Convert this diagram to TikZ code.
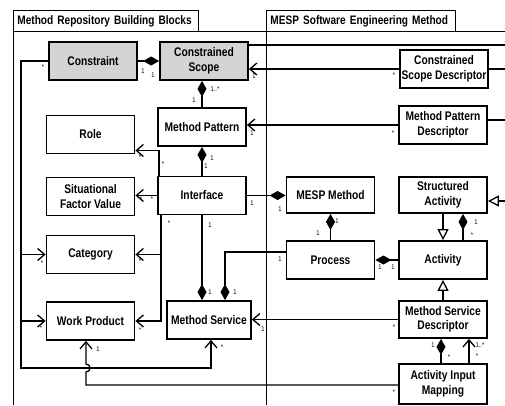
\documentclass[tikz,border=0pt]{standalone}
\usepackage{fontspec}
\setmainfont{Liberation Sans}[FakeStretch=0.82]
\usetikzlibrary{arrows.meta}

\begin{document}
\begin{tikzpicture}[x=1pt,y=-1pt,
    cls/.style={draw, line width=1.8pt, fill=white, minimum width=88pt, minimum height=38pt,
      inner sep=1pt, align=center, font=\fontsize{12.5}{14.5}\selectfont\bfseries},
    shaded/.style={cls, fill=black!17},
    assoc/.style={line width=1.3pt},
    comp/.style={assoc, -{Diamond[length=16pt,width=9pt]}},
    nav/.style={assoc, -{Straight Barb[length=7pt,width=12pt]}},
    gen/.style={assoc, -{Triangle[open,length=11pt,width=11pt]}},
    mult/.style={font=\fontsize{7}{8}\selectfont, inner sep=0pt},
    frame/.style={line width=0.9pt},
    tab/.style={draw, frame, anchor=north west, minimum height=21pt, inner sep=4pt,
      align=left, font=\fontsize{12.3}{14}\selectfont\bfseries}]
    \useasboundingbox (0,0) rectangle (505,405);

    % packages
    \node[tab, text width=177pt] (tabL) at (13,10) {Method Repository Building Blocks};
    \node[tab, text width=181pt] (tabR) at (266,10) {MESP Software Engineering Method};
    \draw[frame] (13,405) |- (505,31);
    \draw[frame] (tabR.north west) -- (266,405);

    % method repository
    \node[shaded] (cons) at (93,61) {Constraint};
    \node[shaded] (cscope) at (204,61) {Constrained\\Scope};
    \node[cls] (mpat) at (202,127) {Method Pattern};
    \node[cls] (role) at (90.5,134.5) {Role};
    \node[cls] (sfv) at (90.5,196.5) {Situational\\Factor Value};
    \node[cls] (iface) at (202,195.5) {Interface};
    \node[cls] (cat) at (90.5,254.5) {Category};
    \node[cls] (wprod) at (90.5,321) {Work Product};
    \node[cls, minimum width=84pt] (msrv) at (209,320) {Method Service};

    % MESP method
    \node[cls] (csd) at (444,69) {Constrained\\Scope Descriptor};
    \node[cls] (mpd) at (443,125) {Method Pattern\\Descriptor};
    \node[cls, minimum height=36pt] (mesp) at (330.5,195) {MESP Method};
    \node[cls, minimum height=36pt] (sact) at (443,195) {Structured\\Activity};
    \node[cls] (proc) at (330.5,260) {Process};
    \node[cls] (act) at (443,260) {Activity};
    \node[cls, minimum height=37pt] (msd) at (443,319.5) {Method Service\\Descriptor};
    \node[cls, minimum height=40pt] (aim) at (443,384) {Activity Input\\Mapping};

    \coordinate (offA) at (505,45);
    \coordinate (offB) at (505,69);
    \coordinate (offC) at (505,120);
    \coordinate (offD) at (505,201);
    \coordinate (ltrunk) at (21,368);
    \coordinate (hop) at (86,368);

    % connectors
    \draw[comp] (cons) -- (cscope);
    \draw[comp] (mpat.north) -- (cscope.south -| mpat);
    \draw[assoc] (cscope.east |- offA) -- (offA);
    \draw[nav] (csd) -- (csd -| cscope.east);
    \draw[assoc] (csd.east) -- (offB);
    \draw[nav] (mpd) -- (mpd -| mpat.east);
    \draw[assoc] (mpd.east |- offC) -- (offC);
    \draw[comp] (iface.north) -- (mpat.south);
    \draw[nav] ([xshift=2pt]iface.north west) |- ([yshift=-16pt]role.east);
    \draw[nav] (iface.west) -- (iface.west -| sfv.east);
    \draw[nav] ([xshift=4pt]iface.south west) |- (cat.east);
    \draw[nav] ([xshift=4pt]iface.south west) |- (wprod.east);
    \draw[comp] (iface.south) -- (iface.south |- msrv.north);
    \draw[comp] ([yshift=8pt]proc.west) -| ([xshift=16pt]msrv.north);
    \draw[comp] (iface.east) -- (iface.east -| mesp.west);
    \draw[comp] (proc.north) -- (mesp.south);
    \draw[comp] (act.west) -- (proc.east);
    \draw[gen] (sact.south) -- (act.north);
    \draw[comp] ([xshift=20pt]act.north) -- ([xshift=20pt]sact.south);
    \draw[gen] (offD) -- (offD -| sact.east);
    \draw[gen] (msd.north) -- (act.south);
    \draw[nav] (msd.west) -- (msd.west -| msrv.east);
    \draw[comp] ([xshift=-2pt]aim.north) -- ([xshift=-2pt]msd.south);
    \draw[nav] ([xshift=26pt]aim.north) -- ([xshift=26pt]msd.south);
    \draw[nav] (cons.west) -| (ltrunk) -| ([xshift=2pt]msrv.south);
    \draw[nav] (cat.west -| ltrunk) -- (cat.west);
    \draw[nav] (wprod.west -| ltrunk) -- (wprod.west);
    \draw[nav] ([yshift=-1pt]aim.west) -| ([yshift=-4pt]hop)
      to[out=0,in=0,looseness=1.7] ([yshift=4pt]hop) -- (hop |- wprod.south);

    % multiplicities
    \foreach \px/\py/\t [count=\i] in {143/71/1, 153/75/1, 43/67/*, 215/89/{1..*}, 194/100/1,
        254/76/1, 394/75/*, 252/133/1, 393/133/*, 212/158/1, 206/166/1, 140/157/*, 163/164/*,
        141/199/*, 152/199/*, 169/223/*, 140/261/*, 42/263/*, 210/225/1, 210/292/1, 235/292/1,
        280/259/1, 252/203/1, 280/209/1, 337/221/1, 318/233/1, 380/267/1, 393/267/1,
        476/222/1, 472/235/*, 140/330/*, 41/328/*, 98/349/1, 222/347/*, 263/329/1, 394/327/*,
        433/345/1, 449/357/*, 480/345/{1..*}, 477/356/*, 394/392/*}
      \node[mult] (m\i) at (\px,\py) {\t};
\end{tikzpicture}
\end{document}
